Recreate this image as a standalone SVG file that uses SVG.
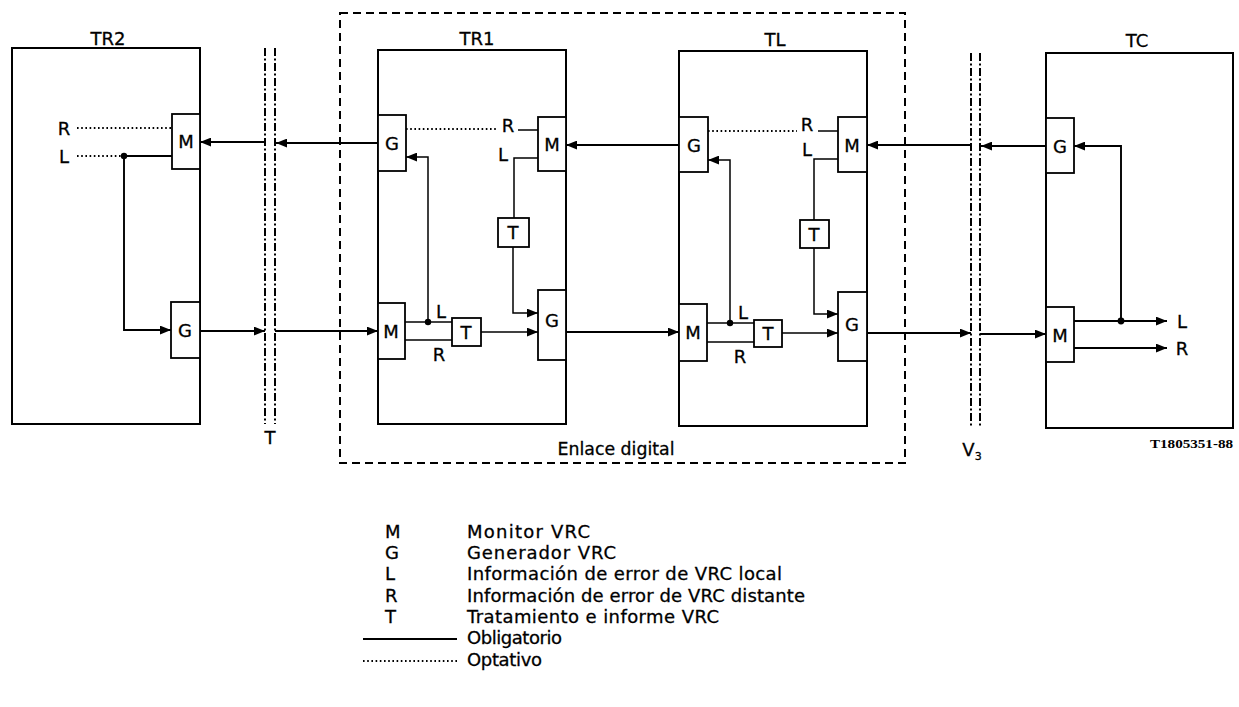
<svg xmlns="http://www.w3.org/2000/svg" width="1239" height="707" viewBox="0 0 1239 707">
<style>
.bg{fill:#fff}
.box{fill:#fff;stroke:#000;stroke-width:2}
.sub{fill:#fff;stroke:#000;stroke-width:1.8}
.ln{fill:none;stroke:#000;stroke-width:1.9}
.th{fill:none;stroke:#000;stroke-width:1.5}
.dot{fill:none;stroke:#000;stroke-width:2;stroke-dasharray:1.6 2.6}
.sep{fill:none;stroke:#000;stroke-width:2;stroke-dasharray:8 2.5 2 2.5}
.dash{fill:none;stroke:#000;stroke-width:2;stroke-dasharray:8 5}
text{font-family:"DejaVu Sans","Liberation Sans",Arial,sans-serif;font-size:18px;fill:#000;stroke:#000;stroke-width:0.3}
.c{text-anchor:middle}
.ttl{font-size:18px;text-anchor:middle}
.code{font-family:"Liberation Serif","Times New Roman",serif;font-size:12px;font-weight:bold;stroke-width:0}
</style>
<defs>
<marker id="a" viewBox="0 0 10 8" refX="10" refY="4" markerWidth="11" markerHeight="9" markerUnits="userSpaceOnUse" orient="auto"><path d="M0,0 L10,4 L0,8 z" fill="#000"/></marker>
</defs>
<rect class="bg" x="0" y="0" width="1239" height="707"/>

<g id="enlace">
<rect class="dash" x="340" y="13" width="565" height="450"/>
<text x="616" y="455" class="c" textLength="117" lengthAdjust="spacingAndGlyphs">Enlace digital</text>
</g>

<g id="TR2">
<rect class="box" x="12" y="48" width="188" height="376"/>
<text x="108" y="45" class="ttl">TR2</text>
<g id="TR2-M"><rect class="sub" x="172" y="114" width="28" height="55"/><text x="186" y="148" class="c">M</text></g>
<g id="TR2-G"><rect class="sub" x="171" y="302" width="29" height="56"/><text x="185" y="337" class="c">G</text></g>
<text x="64" y="135" class="c">R</text>
<text x="64" y="163" class="c">L</text>
</g>

<g id="TR1">
<rect class="box" x="378" y="50" width="188" height="374"/>
<text x="477" y="45" class="ttl">TR1</text>
<g id="TR1-G1"><rect class="sub" x="378" y="115" width="28" height="56"/><text x="392" y="150" class="c">G</text></g>
<g id="TR1-M1"><rect class="sub" x="538" y="117" width="28" height="54"/><text x="552" y="151" class="c">M</text></g>
<g id="TR1-T1"><rect class="sub" x="498" y="218" width="31" height="29"/><text x="513" y="239" class="c">T</text></g>
<g id="TR1-G2"><rect class="sub" x="538" y="290" width="28" height="70"/><text x="552" y="327" class="c">G</text></g>
<g id="TR1-M2"><rect class="sub" x="378" y="303" width="27" height="56"/><text x="391" y="338" class="c">M</text></g>
<g id="TR1-T2"><rect class="sub" x="452" y="318" width="29" height="28"/><text x="466" y="339" class="c">T</text></g>
<text x="508" y="132" class="c">R</text>
<text x="503" y="161" class="c">L</text>
<text x="441" y="318" class="c">L</text>
<text x="439" y="361" class="c">R</text>
</g>

<g id="TL">
<rect class="box" x="679" y="51" width="188" height="375"/>
<text x="775" y="46" class="ttl">TL</text>
<g id="TL-G1"><rect class="sub" x="679" y="117" width="29" height="55"/><text x="694" y="152" class="c">G</text></g>
<g id="TL-M1"><rect class="sub" x="838" y="117" width="29" height="55"/><text x="852" y="152" class="c">M</text></g>
<g id="TL-T1"><rect class="sub" x="800" y="220" width="29" height="28"/><text x="814" y="241" class="c">T</text></g>
<g id="TL-G2"><rect class="sub" x="838" y="292" width="29" height="69"/><text x="852" y="331" class="c">G</text></g>
<g id="TL-M2"><rect class="sub" x="679" y="304" width="28" height="57"/><text x="693" y="339" class="c">M</text></g>
<g id="TL-T2"><rect class="sub" x="754" y="320" width="28" height="27"/><text x="768" y="340" class="c">T</text></g>
<text x="807" y="131" class="c">R</text>
<text x="807" y="156" class="c">L</text>
<text x="743" y="319" class="c">L</text>
<text x="740" y="363" class="c">R</text>
</g>

<g id="TC">
<rect class="box" x="1046" y="53" width="187" height="375"/>
<text x="1137" y="47" class="ttl">TC</text>
<g id="TC-G"><rect class="sub" x="1046" y="118" width="28" height="55"/><text x="1060" y="153" class="c">G</text></g>
<g id="TC-M"><rect class="sub" x="1046" y="307" width="28" height="55"/><text x="1060" y="342" class="c">M</text></g>
<text x="1182" y="328" class="c">L</text>
<text x="1182" y="355" class="c">R</text>
<text x="1233" y="448" class="code" text-anchor="end" textLength="83" lengthAdjust="spacingAndGlyphs">T1805351-88</text>
</g>

<g id="sepT">
<line class="sep" x1="265" y1="48" x2="265" y2="424"/>
<line class="sep" x1="275" y1="48" x2="275" y2="424"/>
<text x="270" y="444" class="c">T</text>
</g>

<g id="sepV3">
<line class="sep" x1="971" y1="53" x2="971" y2="428"/>
<line class="sep" x1="980" y1="53" x2="980" y2="428"/>
<text x="972" y="456" class="c">V<tspan font-size="11" dy="4">3</tspan></text>
</g>

<g id="connectors">
<path class="dot" d="M77,128 H172"/>
<path class="dot" d="M77,156 H124"/>
<path class="ln" d="M124,156 H172"/>
<circle cx="124" cy="156" r="3.2"/>
<path class="ln" d="M124,156 V330 H171" marker-end="url(#a)"/>
<path class="ln" d="M200,331 H265" marker-end="url(#a)"/>
<path class="ln" d="M275,331 H378" marker-end="url(#a)"/>
<path class="ln" d="M378,143 H276" marker-end="url(#a)"/>
<path class="ln" d="M265,142 H200" marker-end="url(#a)"/>
<path class="dot" d="M406,129 H498"/>
<path class="th" d="M518,130 H538"/>
<path class="th" d="M538,158 H514 V218"/>
<path class="th" d="M513,247 V313 H538" marker-end="url(#a)"/>
<path class="th" d="M481,332 H538" marker-end="url(#a)"/>
<path class="th" d="M405,322 H452"/>
<path class="th" d="M405,340 H452"/>
<circle cx="428" cy="322" r="3.2"/>
<path class="th" d="M428,322 V157 H406" marker-end="url(#a)"/>
<path class="ln" d="M566,332 H679" marker-end="url(#a)"/>
<path class="ln" d="M679,145 H566" marker-end="url(#a)"/>
<path class="dot" d="M708,131 H797"/>
<path class="th" d="M818,131 H838"/>
<path class="th" d="M838,159 H814 V220"/>
<path class="th" d="M814,248 V314 H838" marker-end="url(#a)"/>
<path class="th" d="M782,333 H838" marker-end="url(#a)"/>
<path class="th" d="M707,323 H754"/>
<path class="th" d="M707,342 H754"/>
<circle cx="730" cy="323" r="3.2"/>
<path class="th" d="M730,323 V160 H708" marker-end="url(#a)"/>
<path class="ln" d="M867,333 H971" marker-end="url(#a)"/>
<path class="ln" d="M980,334 H1046" marker-end="url(#a)"/>
<path class="ln" d="M1046,146 H981" marker-end="url(#a)"/>
<path class="ln" d="M971,145 H867" marker-end="url(#a)"/>
<path class="ln" d="M1074,321 H1167" marker-end="url(#a)"/>
<path class="ln" d="M1074,348 H1167" marker-end="url(#a)"/>
<circle cx="1121" cy="321" r="3.4"/>
<path class="ln" d="M1121,321 V146 H1074" marker-end="url(#a)"/>
</g>

<g id="legend">
<text x="385" y="538">M</text>
<text x="385" y="559">G</text>
<text x="385" y="580">L</text>
<text x="385" y="602">R</text>
<text x="385" y="623">T</text>
<text x="467" y="538" textLength="123" lengthAdjust="spacing">Monitor VRC</text>
<text x="467" y="559" textLength="149" lengthAdjust="spacing">Generador VRC</text>
<text x="467" y="580" textLength="315" lengthAdjust="spacing">Información de error de VRC local</text>
<text x="467" y="602" textLength="338" lengthAdjust="spacing">Información de error de VRC distante</text>
<text x="467" y="623" textLength="252" lengthAdjust="spacing">Tratamiento e informe VRC</text>
<text x="467" y="644" textLength="95" lengthAdjust="spacing">Obligatorio</text>
<text x="467" y="666" textLength="75" lengthAdjust="spacing">Optativo</text>
<line class="ln" x1="363" y1="639" x2="457" y2="639"/>
<line class="dot" x1="363" y1="661" x2="457" y2="661"/>
</g>
</svg>
